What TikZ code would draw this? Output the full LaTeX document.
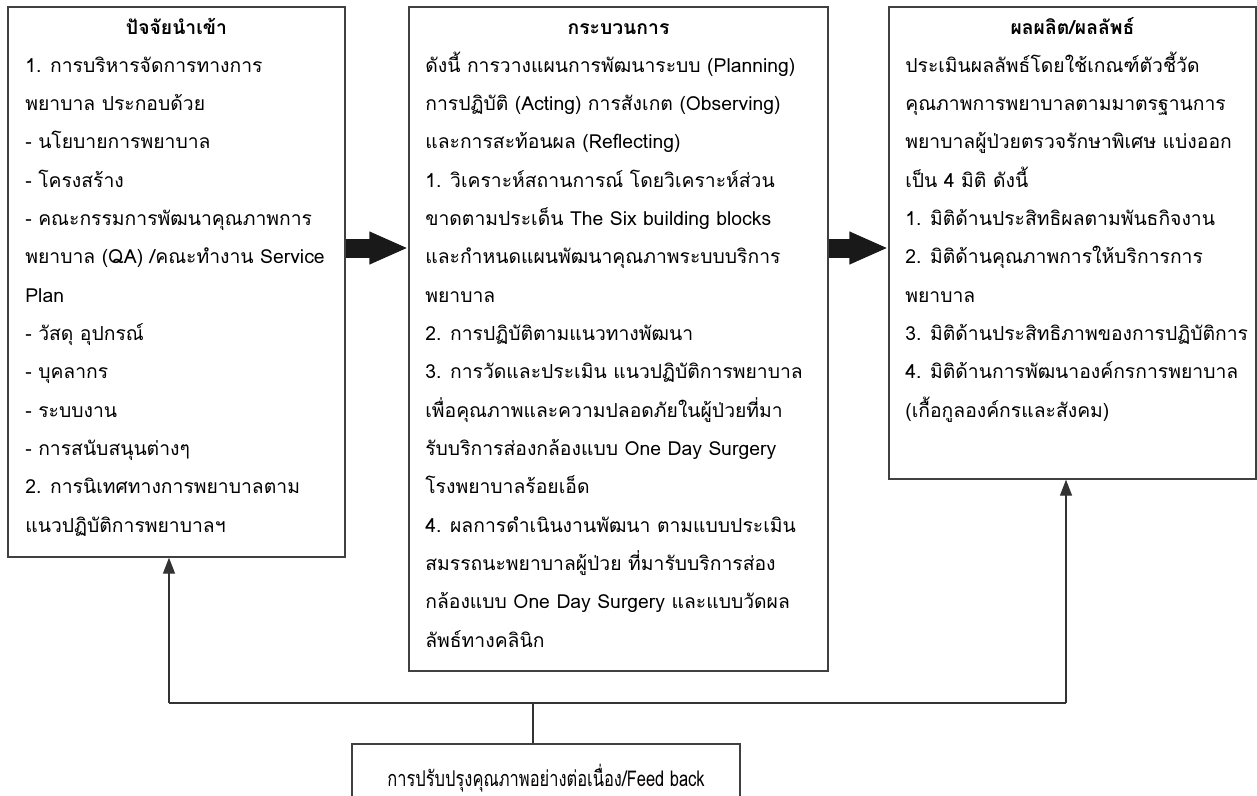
\documentclass[tikz,border=0pt]{standalone}
\usepackage{fontspec}
\setmainfont[Script=Thai]{Loma}
\newfontfamily\narrowfont[Script=Thai, FakeStretch=0.76]{Loma}
\usetikzlibrary{arrows.meta,fit,calc}

\tikzset{
  box/.style={draw=black!75, line width=0.8pt, inner sep=0pt},
  boxtitle/.style={font=\bfseries\fontsize{11.6}{17}\selectfont, anchor=north, inner sep=0pt},
  boxtext/.style={align=left, anchor=north west, inner sep=0pt, font=\fontsize{11.6}{23}\selectfont},
  flowarrow/.style={line width=11.4pt, black!90, -{Triangle[length=23.4pt,width=18pt]}},
  fbline/.style={line width=0.8pt, black!80},
  fbarrow/.style={fbline, -{Triangle[length=9.6pt,width=7.2pt]}}
}

\begin{document}
\begin{tikzpicture}[x=0.6pt,y=-0.6pt]
\clip (0,0) rectangle (1257,796);
%\draw[step=50,black!20] (0,0) grid (1257,796);

% the three boxes
\node[box, fit={(8,7) (345,557)}] (input) {};
\node[box, fit={(409,7) (828,671)}] (process) {};
\node[box, fit={(889,7) (1256,479)}] (output) {};
\node[box, fit={(352,744) (740,820)}] (feedback) {};

% titles
\node[boxtitle] (inputtitle) at ($(input.north)+(0,8)$) {\strut ปัจจัยนำเข้า};
\node[boxtitle] (processtitle) at ($(process.north)+(0,8)$) {\strut กระบวนการ};
\node[boxtitle] (outputtitle) at ($(output.north)+(0,8)$) {\strut ผลผลิต/ผลลัพธ์};

% texts
\node[boxtext] (inputtext) at (25,45) {\strut 1. การบริหารจัดการทางการ\\
พยาบาล ประกอบด้วย\\
- นโยบายการพยาบาล\\
- โครงสร้าง\\
- คณะกรรมการพัฒนาคุณภาพการ\\
พยาบาล (QA) /คณะทำงาน Service\\
Plan\\
- วัสดุ อุปกรณ์\\
- บุคลากร\\
- ระบบงาน\\
- การสนับสนุนต่างๆ\\
2. การนิเทศทางการพยาบาลตาม\\
แนวปฏิบัติการพยาบาลฯ};

\node[boxtext] (processtext) at (425,45) {\strut ดังนี้ การวางแผนการพัฒนาระบบ (Planning)\\
การปฏิบัติ (Acting) การสังเกต (Observing)\\
และการสะท้อนผล (Reflecting)\\
1. วิเคราะห์สถานการณ์ โดยวิเคราะห์ส่วน\\
ขาดตามประเด็น The Six building blocks\\
และกำหนดแผนพัฒนาคุณภาพระบบบริการ\\
พยาบาล\\
2. การปฏิบัติตามแนวทางพัฒนา\\
3. การวัดและประเมิน แนวปฏิบัติการพยาบาล\\
เพื่อคุณภาพและความปลอดภัยในผู้ป่วยที่มา\\
รับบริการส่องกล้องแบบ One Day Surgery\\
โรงพยาบาลร้อยเอ็ด\\
4. ผลการดำเนินงานพัฒนา ตามแบบประเมิน\\
สมรรถนะพยาบาลผู้ป่วย ที่มารับบริการส่อง\\
กล้องแบบ One Day Surgery และแบบวัดผล\\
ลัพธ์ทางคลินิก};

\node[boxtext] (outputtext) at (905,45) {\strut ประเมินผลลัพธ์โดยใช้เกณฑ์ตัวชี้วัด\\
คุณภาพการพยาบาลตามมาตรฐานการ\\
พยาบาลผู้ป่วยตรวจรักษาพิเศษ แบ่งออก\\
เป็น 4 มิติ ดังนี้\\
1. มิติด้านประสิทธิผลตามพันธกิจงาน\\
2. มิติด้านคุณภาพการให้บริการการ\\
พยาบาล\\
3. มิติด้านประสิทธิภาพของการปฏิบัติการ\\
4. มิติด้านการพัฒนาองค์กรการพยาบาล\\
(เกื้อกูลองค์กรและสังคม)};

\node[font=\narrowfont\fontsize{13}{17}\selectfont] (feedbacktext) at (546,778) {การปรับปรุงคุณภาพอย่างต่อเนื่อง/Feed back};

% flow arrows
\coordinate (flowy) at (0,248);
\draw[flowarrow] (input.east |- flowy) -- (process.west |- flowy);
\draw[flowarrow] (process.east |- flowy) -- (output.west |- flowy);

% feedback loop
\coordinate (loopl) at (169,703);
\coordinate (loopr) at (1066,703);
\coordinate (tap) at (533,703);
\draw[fbline] (loopl) -- (loopr);
\draw[fbarrow] (loopl) -- (loopl |- input.south);
\draw[fbarrow] (loopr) -- (loopr |- output.south);
\draw[fbline] (tap) -- (tap |- feedback.north);
\end{tikzpicture}
\end{document}
